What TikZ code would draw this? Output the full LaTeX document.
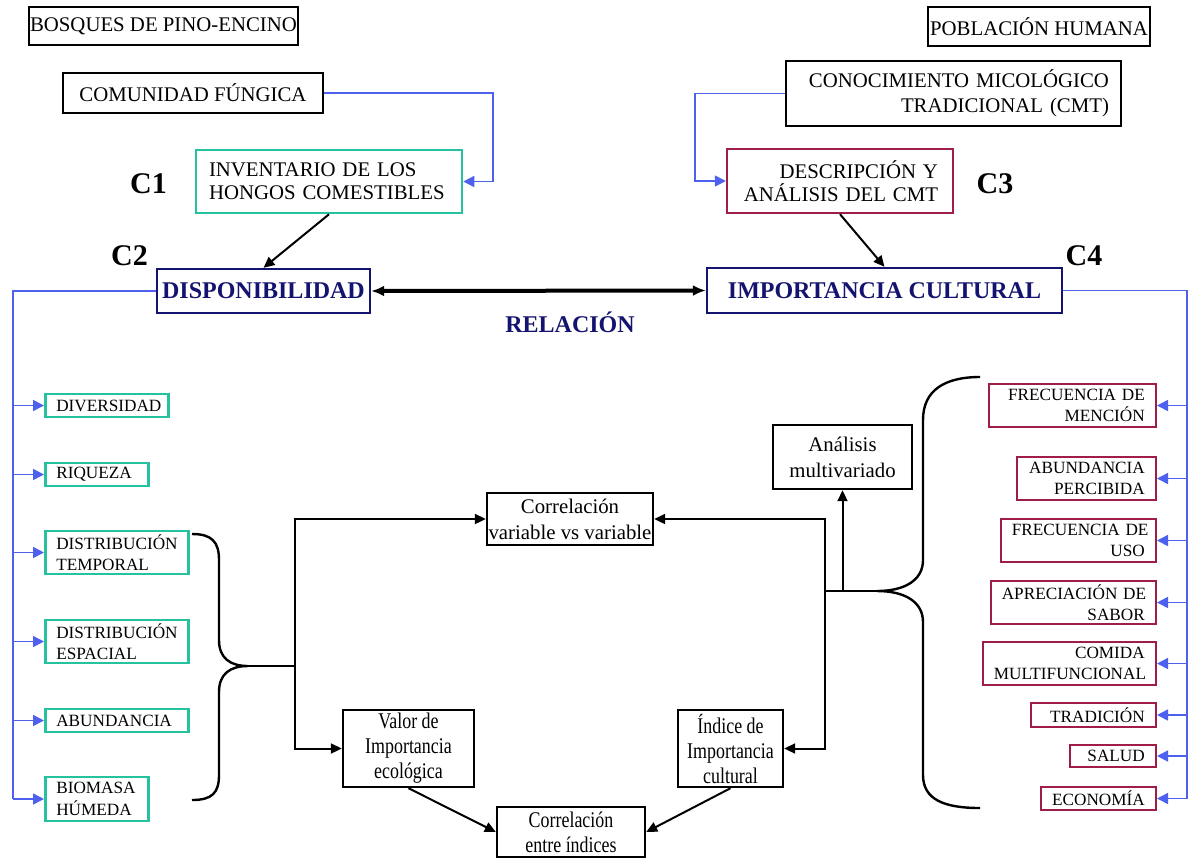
\documentclass[tikz,border=0pt]{standalone}
\usepackage{fontspec}
\setmainfont{Liberation Serif}
\newfontfamily\narrowserif[FakeStretch=0.8]{Liberation Serif}
\usetikzlibrary{arrows.meta, positioning}
\definecolor{fungiteal}{RGB}{38,194,160}
\definecolor{cultmaroon}{RGB}{158,30,72}
\definecolor{relnavy}{RGB}{20,20,112}
\definecolor{linkblue}{RGB}{78,96,238}
\hyphenpenalty=10000

\begin{document}
\begin{tikzpicture}[x=0.5pt, y=-0.5pt,
    plainbox/.style={rectangle, draw, line width=1pt, inner sep=0pt, align=center, font=\fontsize{10.4}{11.7}\selectfont},
    tealbox/.style={rectangle, draw=fungiteal, line width=1.3pt, inner xsep=5.5pt, inner ysep=0pt, align=left, font=\fontsize{8.6}{10.8}\selectfont},
    maroonbox/.style={rectangle, draw=cultmaroon, line width=1.2pt, inner xsep=5.5pt, inner ysep=0pt, align=right, font=\fontsize{8.6}{10.4}\selectfont},
    navybox/.style={rectangle, draw=relnavy, line width=1.2pt, inner sep=0pt, text=relnavy, font=\fontsize{12}{14}\selectfont\bfseries},
    method/.style={rectangle, draw, line width=1.2pt, inner sep=0pt, align=center, font=\fontsize{10.4}{13}\selectfont},
    narrow/.style={method, font=\narrowserif\fontsize{11.2}{12.5}\selectfont},
    clabel/.style={font=\fontsize{15}{15}\selectfont\bfseries},
    arrow/.style={-{Triangle[length=5.5pt, width=5pt]}, line width=1pt},
    link/.style={linkblue, line width=0.8pt},
    linkarrow/.style={link, -{Triangle[length=5.5pt, width=5.5pt]}},
    biarrow/.style={{Latex[length=6.5pt, width=5.5pt]}-{Latex[length=6.5pt, width=5.5pt]}, line width=2pt}
]
    \useasboundingbox (0,0) rectangle (1193,858);

    \node[plainbox, minimum width=134.5pt, minimum height=19pt] (bosques) at (163.5,26) {BOSQUES DE PINO-ENCINO};
    \node[plainbox, minimum width=111pt, minimum height=19.5pt] (poblacion) at (1039,26.5) {POBLACIÓN HUMANA};
    \node[plainbox, minimum width=130pt, minimum height=20pt] (comunidad) at (193,93) {COMUNIDAD FÚNGICA};
    \node[plainbox, align=right, inner xsep=6pt, text width=155.5pt, minimum height=32.5pt, font=\fontsize{10.4}{12.5}\selectfont] (cmt) at (953.5,93.5) {CONOCIMIENTO~MICOLÓGICO\\ TRADICIONAL~(CMT)};
    \node[tealbox, inner xsep=6.5pt, text width=120pt, minimum height=31.5pt, font=\fontsize{10.4}{11.7}\selectfont] (inventario) at (329,181.5) {INVENTARIO~DE~LOS\\ HONGOS~COMESTIBLES};
    \node[maroonbox, inner xsep=7.5pt, text width=98pt, minimum height=32pt, font=\fontsize{10.4}{11.7}\selectfont] (descripcion) at (840,181) {DESCRIPCIÓN~Y\\ ANÁLISIS~DEL~CMT};

    \node[clabel] (c1) at (148.5,183.5) {C1};
    \node[clabel] (c2) at (129.5,256) {C2};
    \node[clabel] (c3) at (995,183.5) {C3};
    \node[clabel] (c4) at (1084,256) {C4};

    \node[navybox, minimum width=106.5pt, minimum height=22pt] (disponibilidad) at (263.5,291) {DISPONIBILIDAD};
    \node[navybox, minimum width=177.5pt, minimum height=22.5pt] (importancia) at (884.5,290.5) {IMPORTANCIA CULTURAL};
    \node[text=relnavy, font=\fontsize{12}{14}\selectfont\bfseries] (relacion) at (570,322) {RELACIÓN};

    \node[tealbox, anchor=west, text width=50.5pt, minimum height=11.5pt] (diversidad) at (44,405.5) {DIVERSIDAD};
    \node[tealbox, anchor=west, text width=40.5pt, minimum height=11.5pt] (riqueza) at (44,474.5) {RIQUEZA};
    \node[tealbox, anchor=west, text width=60.5pt, minimum height=21.5pt] (dtemporal) at (44,552.5) {DISTRIBUCIÓN\\ TEMPORAL};
    \node[tealbox, anchor=west, text width=60.5pt, minimum height=21.5pt] (despacial) at (44,641.5) {DISTRIBUCIÓN\\ ESPACIAL};
    \node[tealbox, anchor=west, text width=60.5pt, minimum height=11.5pt] (abundancia) at (44,720.5) {ABUNDANCIA};
    \node[tealbox, anchor=west, text width=40.5pt, minimum height=22pt] (biomasa) at (44,799) {BIOMASA\\ HÚMEDA};

    \node[maroonbox, anchor=east, text width=72.5pt, minimum height=21.5pt] (fmencion) at (1157,405.5) {FRECUENCIA~DE\\ MENCIÓN};
    \node[maroonbox, anchor=east, text width=58.5pt, minimum height=21.5pt] (apercibida) at (1157,478.5) {ABUNDANCIA\\ PERCIBIDA};
    \node[maroonbox, anchor=east, text width=66.5pt, minimum height=21.5pt] (fuso) at (1157,540.5) {FRECUENCIA~DE\\ USO};
    \node[maroonbox, anchor=east, text width=71.5pt, minimum height=21.5pt] (asabor) at (1157,602.5) {APRECIACIÓN~DE\\ SABOR};
    \node[maroonbox, anchor=east, text width=75.5pt, minimum height=21.5pt] (comida) at (1157,663.5) {COMIDA\\ MULTIFUNCIONAL};
    \node[maroonbox, anchor=east, text width=51.5pt, minimum height=12pt] (tradicion) at (1157,715) {TRADICIÓN};
    \node[maroonbox, anchor=east, text width=32pt, minimum height=11pt] (salud) at (1157,756) {SALUD};
    \node[maroonbox, anchor=east, text width=46.5pt, minimum height=11.5pt] (economia) at (1157,798.5) {ECONOMÍA};

    \node[method, minimum width=83pt, minimum height=26pt] (corrvar) at (570,519) {Correlación\\ variable vs variable};
    \node[method, minimum width=69.5pt, minimum height=32pt] (analisis) at (842.5,457) {Análisis\\ multivariado};
    \node[narrow, minimum width=65.5pt, minimum height=38.5pt] (valor) at (408.5,748.5) {Valor de\\ Importancia\\ ecológica};
    \node[narrow, minimum width=52.5pt, minimum height=38.5pt] (indice) at (730.5,748.5) {Índice de\\ Importancia\\ cultural};
    \node[narrow, minimum width=74pt, minimum height=25pt] (corrind) at (571,832) {Correlación\\ entre índices};

    \coordinate (lbus) at (13,0);
    \coordinate (rbus) at (1187,0);
    \coordinate (lbrace) at (248,666);
    \coordinate (ljoin) at (295,666);
    \coordinate (rbrace) at (877,591);
    \coordinate (rjoin) at (825,591);

    \draw[linkarrow] (comunidad.east) -- ++(169,0) |- (inventario.east);
    \draw[linkarrow] (cmt.west) -- ++(-90,0) |- (descripcion.west);
    \draw[arrow] (inventario.south) -- (disponibilidad.north);
    \draw[arrow] (descripcion.south) -- (importancia.north);
    \draw[biarrow] (disponibilidad.east) -- (importancia.west);

    \draw[link] (disponibilidad.west) -| (lbus |- biomasa.west);
    \foreach \b in {diversidad, riqueza, dtemporal, despacial, abundancia, biomasa}
        \draw[linkarrow] (lbus |- \b.west) -- (\b.west);
    \draw[link] (importancia.east) -| (rbus |- economia.east);
    \foreach \b in {fmencion, apercibida, fuso, asabor, comida, tradicion, salud, economia}
        \draw[linkarrow] (rbus |- \b.east) -- (\b.east);

    \draw[line width=1.2pt] (192,534) .. controls (212,534) and (219,542) .. (219,560) -- (219,640)
        .. controls (219,658) and (230,666) .. (lbrace) .. controls (230,666) and (219,674) .. (219,692)
        -- (219,775) .. controls (219,793) and (212,800) .. (192,800);
    \draw[line width=1.2pt] (980,377) .. controls (945,377) and (923,390) .. (923,420) -- (923,560)
        .. controls (923,580) and (905,591) .. (rbrace) .. controls (905,591) and (923,602) .. (923,622)
        -- (923,775) .. controls (923,800) and (945,808) .. (980,808);

    \draw[line width=1pt] (lbrace) -- (ljoin);
    \draw[arrow] (ljoin) |- (corrvar.west);
    \draw[arrow] (ljoin) |- (valor.west);
    \draw[line width=1pt] (rbrace) -- (rjoin);
    \draw[arrow] (rjoin) |- (corrvar.east);
    \draw[arrow] (rjoin) |- (indice.east);
    \draw[arrow] (analisis.south |- rjoin) -- (analisis.south);
    \draw[arrow] (valor.south) -- (corrind.west);
    \draw[arrow] (indice.south) -- (corrind.east);
\end{tikzpicture}
\end{document}
